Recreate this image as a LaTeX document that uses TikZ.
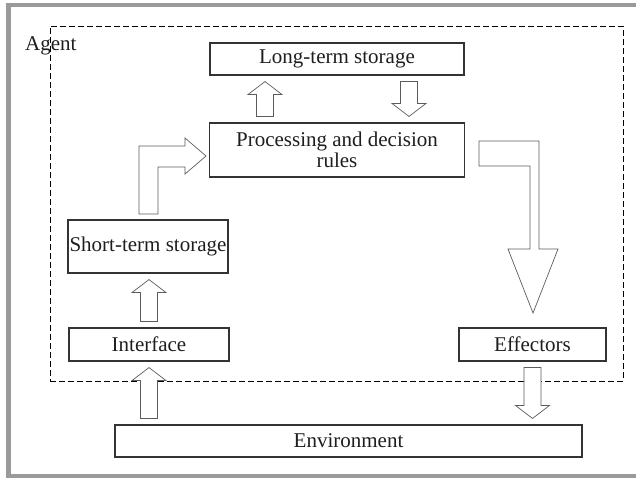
\documentclass[tikz,border=0pt]{standalone}
\usepackage{fontspec}
\setmainfont{Liberation Serif}
\usetikzlibrary{calc}
\definecolor{framegray}{HTML}{9A9A9A}
\definecolor{boxline}{HTML}{333333}
\definecolor{arrowline}{HTML}{5C5C5C}
\definecolor{textcol}{HTML}{1E1E1E}

\tikzset{
  box/.style={draw=boxline, line width=1.1pt, inner sep=0pt, align=center,
    text=textcol, font=\fontsize{21}{21}\selectfont},
  fat/.style={draw=arrowline, fill=white, line width=0.7pt, line join=miter,
    to path={let \p1=($(\tikztostart)!6pt!(\tikztotarget)$),
                 \p2=($(\tikztotarget)!6pt!(\tikztostart)$),
                 \n1={sign(\y2-\y1)} in
      ({\x1-8.5pt},\y1) -- ({\x1-8.5pt},{\y2-\n1*13pt}) -- ({\x1-17pt},{\y2-\n1*13pt})
      -- (\x1,\y2) -- ({\x1+17pt},{\y2-\n1*13pt}) -- ({\x1+8.5pt},{\y2-\n1*13pt})
      -- ({\x1+8.5pt},\y1) -- cycle}},
  bent/.style={draw=arrowline, fill=white, line width=0.7pt, line join=miter},
}

\begin{document}
\begin{tikzpicture}[x=1pt, y=-1pt]
        \useasboundingbox (0,0) rectangle (636,479);
        % frame
        \fill[framegray] (6,3) rectangle (636,7);
        \fill[framegray] (6,3) rectangle (11,478);
        \fill[framegray] (6,474) rectangle (636,478);

        \node[draw=black, line width=0.9pt, dash pattern=on 6pt off 3pt,
              minimum width=573pt, minimum height=355pt, inner sep=0pt] (agent) at (336.5,203.5) {};
        \node[anchor=base west, inner sep=0pt, text=textcol, font=\fontsize{21}{21}\selectfont] (agentlbl) at (25,50) {Agent};

        \node[box, minimum width=254pt, minimum height=32pt] (long) at (337,59) {Long-term storage};
        \node[box, minimum width=255pt, minimum height=54pt] (proc) at (337,150) {Processing and decision\\rules};
        \node[box, minimum width=160pt, minimum height=53pt] (short) at (148,246.5) {Short-term storage};
        \node[box, minimum width=160pt, minimum height=33pt] (interface) at (149,344.5) {Interface};
        \node[box, minimum width=147pt, minimum height=33pt] (effectors) at (532.5,344.5) {Effectors};
        \node[box, minimum width=467pt, minimum height=32pt] (env) at (348.5,441) {Environment};

        \draw[fat] ([xshift=-72pt]proc.north) to ([xshift=-72pt]long.south);
        \draw[fat] ([xshift=72pt]long.south) to ([xshift=72pt]proc.north);
        \draw[fat] (interface.north) to (interface.north |- short.south);
        \draw[fat] (env.north -| interface.south) to (interface.south);
        \draw[fat] (effectors.south) to (effectors.south |- env.north);

        % bent arrows
        \draw[bent] (139,214) -- (139,146) -- (185,146) -- (185,138) -- (206,156)
                -- (185,174) -- (185,167) -- (158,167) -- (158,214) -- cycle;
        \draw[bent] (479,141) -- (539,141) -- (539,249) -- (558,249) -- (533,313)
                -- (508,249) -- (530,249) -- (530,166) -- (479,166) -- cycle;
\end{tikzpicture}
\end{document}
